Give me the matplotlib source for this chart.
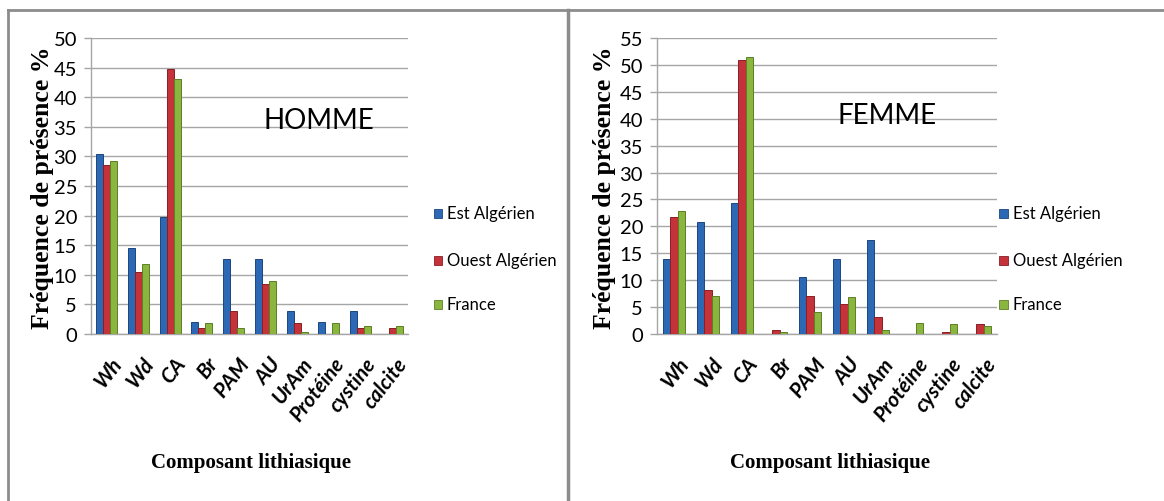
import matplotlib
matplotlib.use("Agg")
import matplotlib.pyplot as plt
from matplotlib.lines import Line2D
import numpy as np

categories = ["Wh", "Wd", "CA", "Br", "PAM", "AU", "UrAm", "Protéine", "cystine", "calcite"]
series_names = ["Est Algérien", "Ouest Algérien", "France"]

homme_est = [30.4, 14.5, 19.8, 2.1, 12.7, 12.7, 3.9, 2.1, 3.9, 0.0]
homme_ouest = [28.5, 10.4, 44.7, 1.0, 3.9, 8.5, 1.9, 0.0, 1.0, 1.0]
homme_france = [29.2, 11.8, 43.1, 1.9, 1.0, 9.0, 0.4, 1.9, 1.3, 1.3]

femme_est = [13.9, 20.9, 24.4, 0.0, 10.5, 13.9, 17.5, 0.0, 0.0, 0.0]
femme_ouest = [21.8, 8.1, 51.0, 0.8, 7.0, 5.6, 3.1, 0.0, 0.4, 1.8]
femme_france = [22.9, 7.0, 51.5, 0.4, 4.0, 6.8, 0.8, 2.0, 1.8, 1.5]

homme_ticks = [0, 5, 10, 15, 20, 25, 30, 35, 40, 45, 50]
femme_ticks = [0, 5, 10, 15, 20, 25, 30, 35, 40, 45, 50, 55]

colors = ["#2C68B3", "#C5333A", "#8AB63F"]
edges = ["#1B4680", "#8A1E24", "#5C7F25"]

W, H = 1164, 502
fig = plt.figure(figsize=(W / 100, H / 100), dpi=100)
fig.patch.set_facecolor("white")

SANS = ["Lato", "DejaVu Sans"]
SERIF = ["Liberation Serif", "DejaVu Serif"]


def px_axes(x0, x1, ytop, ybot):
    return fig.add_axes([x0 / W, 1 - ybot / H, (x1 - x0) / W, (ybot - ytop) / H])


def draw(ax, data, ticks, title, title_xy):
    x = np.arange(len(categories))
    bw = 0.22
    for i, (vals, c, e) in enumerate(zip(data, colors, edges)):
        ax.bar(x + (i - 1) * bw, vals, width=bw, color=c, edgecolor=e,
               linewidth=0.7, zorder=3)
    ax.set_xlim(-0.5, len(categories) - 0.5)
    ax.set_ylim(0, ticks[-1])
    ax.set_yticks(ticks)
    ax.set_yticklabels([str(t) for t in ticks], family=SANS, fontsize=14.5)
    ax.yaxis.grid(True, color="#A6A6A6", linewidth=1.0, zorder=0)
    ax.set_axisbelow(True)
    ax.tick_params(axis="y", length=5, color="#A6A6A6", width=1.0, pad=5)
    ax.tick_params(axis="x", length=0, pad=14)
    ax.set_xticks(x + 0.12)
    ax.set_xticklabels(categories, rotation=52, ha="right",
                       rotation_mode="anchor", family=SANS,
                       fontsize=15, fontweight="bold", fontstyle="italic")
    for s in ["top", "right"]:
        ax.spines[s].set_visible(False)
    for s in ["left", "bottom"]:
        ax.spines[s].set_color("#A6A6A6")
        ax.spines[s].set_linewidth(1.0)
    ax.text(*title_xy, title, transform=fig.transFigure, ha="center",
            va="center", family=SANS, fontsize=20)


ax1 = px_axes(91, 408, 39, 335)
draw(ax1, [homme_est, homme_ouest, homme_france], homme_ticks, "HOMME",
     (319 / W, 1 - 121 / H))
ax2 = px_axes(657, 997, 39, 335)
draw(ax2, [femme_est, femme_ouest, femme_france], femme_ticks, "FEMME",
     (887 / W, 1 - 116 / H))

# y labels
for xc in (43, 605):
    fig.text(xc / W, 1 - 188 / H, "Fréquence de présence %", rotation=90,
             ha="center", va="center", family=SERIF, fontsize=18.5,
             fontweight="bold")
# x labels
for xc in (251, 830):
    fig.text(xc / W, 1 - 463 / H, "Composant lithiasique", ha="center",
             va="center", family=SERIF, fontsize=15, fontweight="bold")

# legends
for lx in (438, 1004):
    for name, c, e, ly in zip(series_names, colors, edges, (214, 261, 305)):
        fig.patches.append(plt.Rectangle(((lx - 4.5) / W, 1 - (ly + 4.5) / H),
                                         9 / W, 9 / H, facecolor=c,
                                         edgecolor=e, linewidth=0.6,
                                         transform=fig.transFigure))
        fig.text((lx + 9) / W, 1 - ly / H, name, ha="left", va="center",
                 family=SANS, fontsize=12)

# panel borders
bc = "#8C8C8C"
fig.add_artist(Line2D([8 / W, 1], [1 - 11 / H, 1 - 11 / H], color=bc, lw=2,
                      transform=fig.transFigure))
fig.add_artist(Line2D([8 / W, 8 / W], [0, 1 - 11 / H], color=bc, lw=2,
                      transform=fig.transFigure))
fig.add_artist(Line2D([568 / W, 568 / W], [0, 1 - 11 / H], color=bc, lw=2.5,
                      transform=fig.transFigure))

fig.savefig("out.png", dpi=100, facecolor="white")
